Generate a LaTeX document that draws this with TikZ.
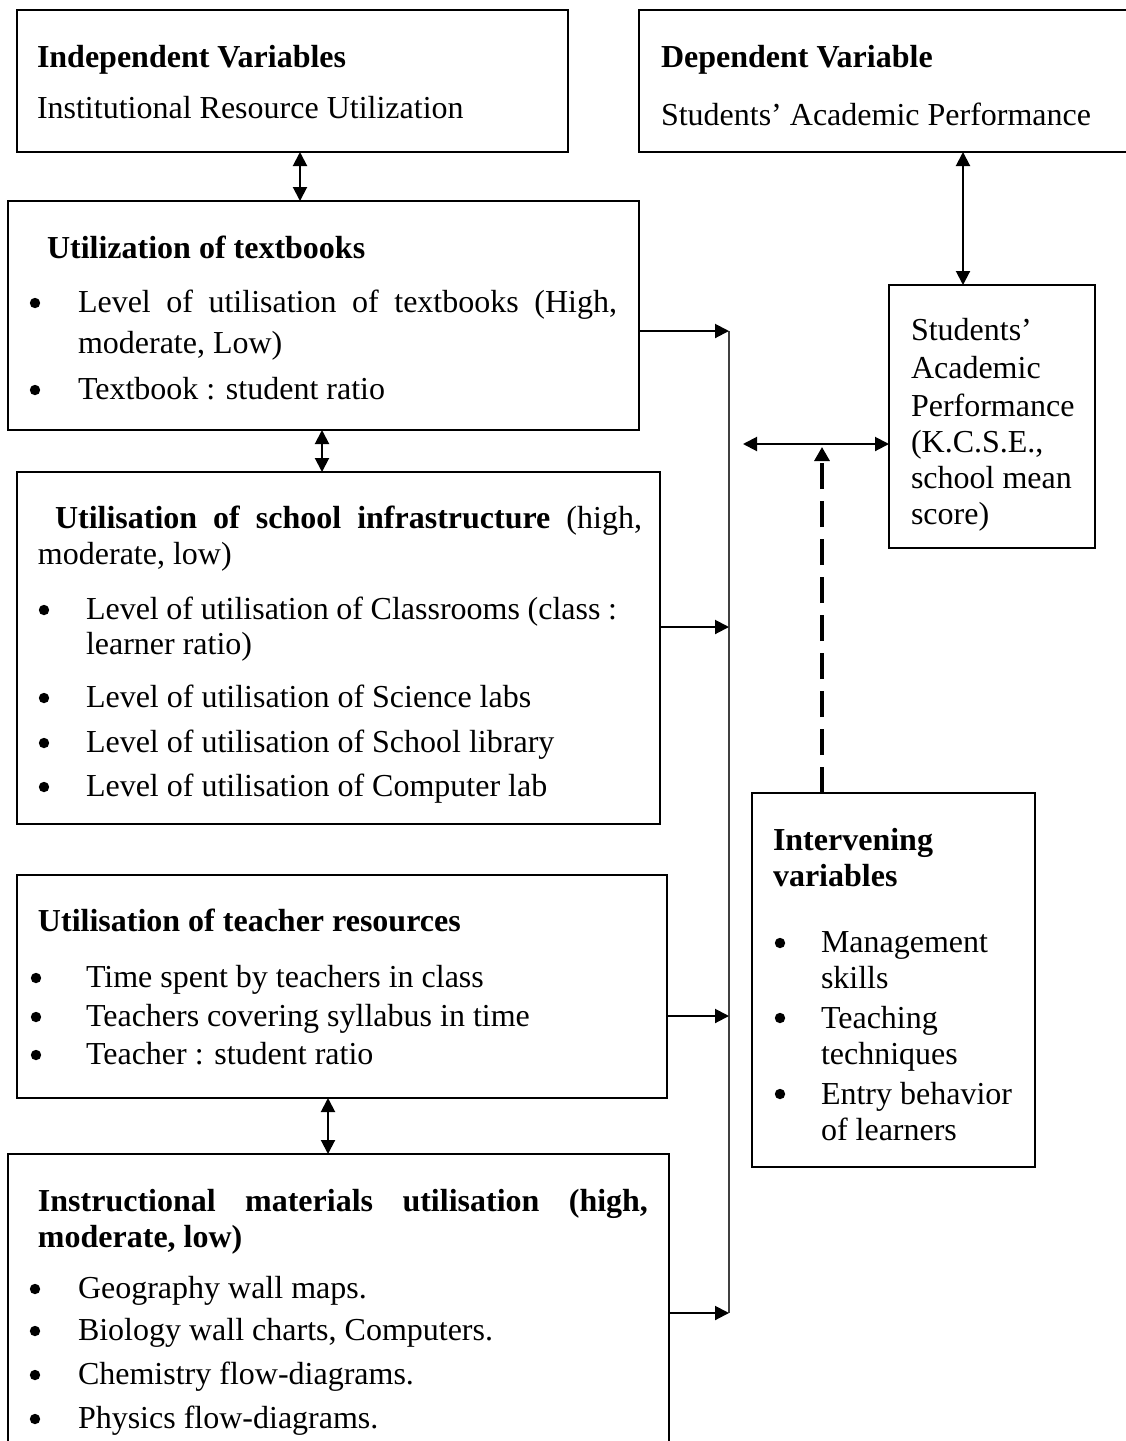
\documentclass[tikz,border=0pt]{standalone}
\usepackage{fontspec}
\setmainfont{Liberation Serif}
\usetikzlibrary{arrows.meta,fit}
\newcommand\bdot[2]{\fill (#1,#2) circle (2.6pt);}
\begin{document}
\begin{tikzpicture}[x=0.5pt,y=-0.5pt,
  box/.style={draw,line width=1pt,inner sep=0pt,outer sep=0pt},
  txt/.style={anchor=base west,inner sep=0pt,outer sep=0pt,font=\fontsize{16pt}{18pt}\selectfont},
  arr/.style={line width=1pt,-{Triangle[length=7pt,width=7pt]}},
  darr/.style={line width=1pt,{Triangle[length=7pt,width=7pt]}-{Triangle[length=7pt,width=7pt]}},
  dash arrow/.style={line width=1.6pt,dash pattern=on 13pt off 6pt,-{Triangle[length=7pt,width=7.5pt]}},
  vline/.style={line width=0.7pt,black!75}
]
\useasboundingbox (0,0) rectangle (1125,1441);

% boxes
\node[box,fit={(17,10)(568,152)}] (b1) {};
\node[box,fit={(639,10)(1140,152)}] (b2) {};
\node[box,fit={(8,201)(639,430)}] (b3) {};
\node[box,fit={(17,472)(660,824)}] (b4) {};
\node[box,fit={(17,875)(667,1098)}] (b5) {};
\node[box,fit={(8,1154)(669,1470)}] (b6) {};
\node[box,fit={(889,285)(1095,548)}] (b7) {};
\node[box,fit={(752,793)(1035,1167)}] (b8) {};

% box 1
\node[txt] (t11) at (37,67) {\textbf{Independent Variables}};
\node[txt] (t12) at (37,118) {Institutional Resource Utilization};
% box 2
\node[txt] (t21) at (661,67) {\textbf{Dependent Variable}};
\node[txt] (t22) at (661,125) {Students’ Academic Performance};
% box 3
\node[txt] (t31) at (47,258) {\textbf{Utilization of textbooks}};
\bdot{35}{303}
\node[txt] (t32) at (78,312) {\makebox[269.5pt][s]{Level of utilisation of textbooks (High,}};
\node[txt] (t33) at (78,353) {moderate, Low)};
\bdot{35}{390}
\node[txt] (t34) at (78,399) {Textbook : student ratio};
% box 4
\node[txt] (t41) at (55,528) {\makebox[293.5pt][s]{\textbf{Utilisation of school infrastructure} (high,}};
\node[txt] (t42) at (38,564) {moderate, low)};
\bdot{44}{610}
\node[txt] (t43) at (86,619) {\makebox[265.5pt][s]{Level of utilisation of Classrooms (class :}};
\node[txt] (t44) at (86,654) {learner ratio)};
\bdot{44}{698}
\node[txt] (t45) at (86,707) {Level of utilisation of Science labs};
\bdot{44}{743}
\node[txt] (t46) at (86,752) {Level of utilisation of School library};
\bdot{44}{787}
\node[txt] (t47) at (86,796) {Level of utilisation of Computer lab};
% box 5
\node[txt] (t51) at (38,931) {\textbf{Utilisation of teacher resources}};
\bdot{36}{978}
\node[txt] (t52) at (86,987) {Time spent by teachers in class};
\bdot{36}{1017}
\node[txt] (t53) at (86,1026) {Teachers covering syllabus in time};
\bdot{36}{1055}
\node[txt] (t54) at (86,1064) {Teacher : student ratio};
% box 6
\node[txt] (t61) at (38,1211) {\makebox[305pt][s]{\textbf{Instructional materials utilisation (high,}}};
\node[txt] (t62) at (38,1247) {\textbf{moderate, low)}};
\bdot{35}{1289}
\node[txt] (t63) at (78,1298) {Geography wall maps.};
\bdot{35}{1331}
\node[txt] (t64) at (78,1340) {Biology wall charts, Computers.};
\bdot{35}{1375}
\node[txt] (t65) at (78,1384) {Chemistry flow-diagrams.};
\bdot{35}{1419}
\node[txt] (t66) at (78,1428) {Physics flow-diagrams.};
% box 7
\node[txt] (t71) at (911,340) {Students’};
\node[txt] (t72) at (911,378) {Academic};
\node[txt] (t73) at (911,416) {Performance};
\node[txt] (t74) at (911,452) {(K.C.S.E.,};
\node[txt] (t75) at (911,488) {school mean};
\node[txt] (t76) at (911,524) {score)};
% box 8
\node[txt] (t81) at (773,850) {\textbf{Intervening}};
\node[txt] (t82) at (773,886) {\textbf{variables}};
\bdot{780}{943}
\node[txt] (t83) at (821,952) {Management};
\node[txt] (t84) at (821,988) {skills};
\bdot{780}{1018}
\node[txt] (t85) at (821,1028) {Teaching};
\node[txt] (t86) at (821,1064) {techniques};
\bdot{780}{1094}
\node[txt] (t87) at (821,1104) {Entry behavior};
\node[txt] (t88) at (821,1140) {of learners};

% helper coordinates
\coordinate (x300) at (300,0);
\coordinate (x322) at (322,0);
\coordinate (x328) at (328,0);
\coordinate (x963) at (963,0);
\coordinate (x822) at (822,0);
\coordinate (a1) at (729,331);
\coordinate (a2) at (729,627);
\coordinate (a3) at (729,1016);
\coordinate (a4) at (729,1313);
\coordinate (hl) at (743,444);
\coordinate (dtip) at (822,447);

% connectors
\draw[vline] (a1) -- (a4);
\draw[arr] (b3.east |- a1) -- (a1);
\draw[arr] (b4.east |- a2) -- (a2);
\draw[arr] (b5.east |- a3) -- (a3);
\draw[arr] (b6.east |- a4) -- (a4);
\draw[darr] (b1.south -| x300) -- (b3.north -| x300);
\draw[darr] (b3.south -| x322) -- (b4.north -| x322);
\draw[darr] (b5.south -| x328) -- (b6.north -| x328);
\draw[darr] (b2.south -| x963) -- (b7.north -| x963);
\draw[darr] (hl) -- (b7.west |- hl);
\draw[dash arrow] (b8.north -| x822) -- (dtip);
\end{tikzpicture}
\end{document}
